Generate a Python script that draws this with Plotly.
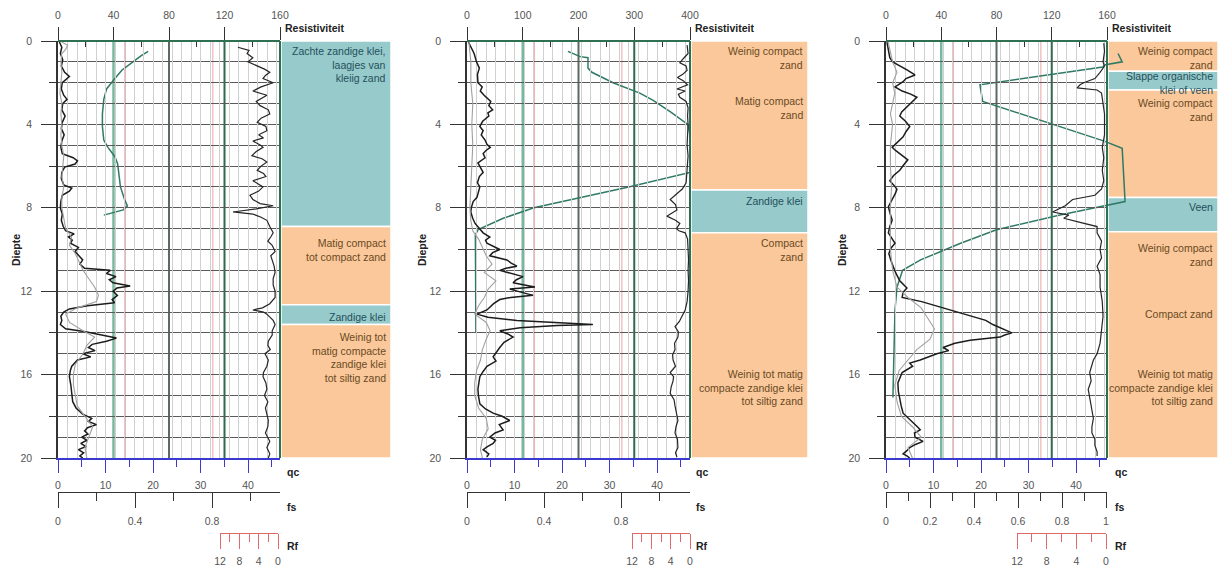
import plotly.graph_objects as go

W, H = 1220, 566
FONT = "Liberation Sans, Arial, Helvetica, sans-serif"

# ======================= DATA =======================
# ---------- Panel 1 ----------
p1_qc_depth = [0.05, 0.3, 0.6, 0.9, 1.2, 1.5, 1.7, 1.85, 2.0, 2.3,
               2.6, 2.8, 3.0, 3.3, 3.6, 3.9, 4.2, 4.5, 4.8, 5.1,
               5.4, 5.6, 5.75, 5.9, 6.05, 6.3, 6.6, 6.9, 7.05, 7.2,
               7.4, 7.7, 8.0, 8.3, 8.6, 8.9, 9.1, 9.25, 9.4, 9.55,
               9.7, 9.9, 10.1, 10.3, 10.5, 10.7, 10.9, 11.0, 11.15, 11.3,
               11.45, 11.6, 11.75, 11.85, 12.0, 12.2, 12.4, 12.55, 12.7, 12.85,
               13.0, 13.2, 13.4, 13.6, 13.8, 13.95, 14.1, 14.25, 14.4, 14.55,
               14.7, 14.85, 15.0, 15.15, 15.3, 15.45, 15.6, 15.8, 16.1, 16.5,
               16.9, 17.3, 17.6, 17.9, 18.1, 18.25, 18.4, 18.55, 18.7, 18.85,
               19.0, 19.15, 19.3, 19.45, 19.6, 19.75, 19.9, 20.0]
p1_qc = [0.3, 0.8, 0.5, 1.0, 0.7, 1.4, 2.4, 1.6, 0.9, 0.7,
         1.2, 1.9, 1.0, 0.8, 1.5, 0.9, 0.7, 1.3, 0.8, 0.6,
         0.9, 3.2, 4.1, 3.6, 1.4, 0.8, 0.7, 1.2, 2.9, 2.4,
         0.9, 0.6, 0.5, 0.9, 0.7, 1.1, 1.6, 3.4, 2.2, 3.0,
         2.6, 4.3, 3.6, 4.4, 5.2, 4.6, 5.6, 11.0, 10.2, 12.2,
         10.8, 11.6, 15.2, 12.4, 11.6, 12.5, 11.4, 11.9, 6.2, 2.4,
         1.2, 0.6, 0.8, 0.5, 1.6, 5.8, 9.5, 12.3, 10.2, 7.2,
         6.4, 7.8, 5.2, 6.9, 4.1, 3.4, 2.9, 2.6, 2.4, 2.7,
         2.9, 3.1, 3.8, 5.2, 7.1, 6.4, 8.1, 6.2, 5.6, 6.3,
         5.0, 6.1, 4.8, 5.9, 4.3, 5.4, 4.6, 5.2]

p1_fs_depth = [0.05, 0.2, 0.4, 0.6, 1.0, 1.5, 2.0, 2.5, 3.0, 3.5,
               4.0, 4.5, 5.0, 5.5, 6.0, 6.5, 7.0, 7.5, 8.0, 8.5,
               9.0, 9.4, 9.8, 10.2, 10.6, 11.0, 11.4, 11.8, 12.2, 12.5,
               12.8, 13.1, 13.5, 13.9, 14.2, 14.6, 15.0, 15.5, 16.0, 16.5,
               17.0, 17.5, 18.0, 18.5, 19.0, 19.5, 20.0]
p1_fs = [0.02, 0.05, 0.04, 0.02, 0.015, 0.02, 0.015, 0.01, 0.02, 0.015,
         0.02, 0.015, 0.02, 0.03, 0.025, 0.02, 0.03, 0.02, 0.02, 0.03,
         0.04, 0.07, 0.06, 0.09, 0.11, 0.13, 0.16, 0.19, 0.21, 0.2,
         0.1, 0.04, 0.06, 0.13, 0.19, 0.15, 0.13, 0.09, 0.08, 0.08,
         0.09, 0.1, 0.14, 0.18, 0.16, 0.14, 0.15]

p1_rf_depth = [0.3, 0.45, 0.6, 0.8, 1.0, 1.2, 1.35, 1.5, 1.65, 1.8,
               2.0, 2.2, 2.4, 2.6, 2.75, 2.9, 3.1, 3.3, 3.5, 3.7,
               3.9, 4.1, 4.3, 4.5, 4.65, 4.8, 5.0, 5.1, 5.3, 5.5,
               5.65, 5.8, 6.0, 6.2, 6.35, 6.5, 6.7, 6.85, 7.0, 7.2,
               7.4, 7.6, 7.8, 7.9, 8.05, 8.2, 8.3, 8.45, 8.6, 8.9,
               9.2, 9.4, 9.6, 9.8, 10.1, 10.3, 10.5, 10.8, 11.1, 11.4,
               11.7, 12.0, 12.3, 12.6, 12.8, 12.9, 13.0, 13.1, 13.4, 13.6,
               13.9, 14.1, 14.4, 14.6, 14.8, 15.0, 15.3, 15.6, 15.9, 16.1,
               16.4, 16.7, 17.0, 17.3, 17.6, 17.9, 18.2, 18.5, 18.8, 19.2,
               19.5, 19.8, 20.0]
p1_rf = [8.3, 6.0, 6.4, 5.2, 6.2, 4.1, 2.8, 1.7, 2.6, 3.1,
         1.0, 3.5, 5.2, 2.3, 3.4, 4.5, 3.7, 2.0, 1.7, 3.5,
         4.3, 2.5, 2.3, 4.0, 3.0, 5.2, 3.6, 3.1, 4.5, 5.4,
         3.3, 2.3, 3.5, 4.3, 3.0, 2.5, 5.2, 4.0, 3.1, 4.0,
         5.8, 5.2, 3.7, 1.0, 4.5, 9.3, 5.2, 3.5, 2.3, 1.7,
         1.0, 1.5, 2.1, 1.2, 0.6, 1.5, 1.2, 0.8, 0.6, 1.0,
         1.0, 0.6, 0.6, 1.7, 3.2, 5.2, 3.0, 2.3, 1.0, 0.6,
         1.2, 1.2, 2.0, 2.1, 1.6, 2.7, 2.0, 2.3, 3.0, 3.1,
         2.5, 2.3, 2.8, 2.1, 2.6, 2.3, 2.0, 2.1, 2.6, 1.7,
         2.3, 1.7, 2.0]

p1_res_depth = [0.5, 0.7, 1.0, 1.4, 1.8, 2.3, 2.8, 3.5, 4.1, 4.75,
                5.1, 5.55, 5.9, 6.5, 7.0, 7.6, 7.9, 8.1, 8.35]
p1_res = [65, 60, 54, 46, 41, 35, 33, 32, 32, 33,
          36, 41, 43, 44, 45, 48, 50, 47, 33]

p1_layer_top = [0.0, 8.9, 12.65, 13.6]
p1_layer_bottom = [8.9, 12.65, 13.6, 20.0]
p1_layer_type = ["klei", "zand", "klei", "zand"]
p1_text = ["Zachte zandige klei,<br>laagjes van<br>kleiig zand",
           "Matig compact<br>tot compact zand",
           "Zandige klei",
           "Weinig tot<br>matig compacte<br>zandige klei<br>tot siltig zand"]
p1_text_depth = [0.1, 9.3, 12.85, 13.8]
p1_res_ticks = [0, 40, 80, 120, 160]
p1_fs_ticks = [0, 0.4, 0.8]
p1_fs_minor = [0.2, 0.6, 1.0]

# ---------- Panel 2 ----------
p2_qc_depth = [0.05, 0.3, 0.6, 1.0, 1.3, 1.6, 2.0, 2.2, 2.4, 2.6,
               2.75, 2.9, 3.1, 3.3, 3.45, 3.6, 3.85, 4.1, 4.3, 4.5,
               4.75, 4.95, 5.1, 5.25, 5.4, 5.6, 5.85, 6.1, 6.3, 6.5,
               6.8, 7.0, 7.25, 7.5, 7.7, 8.0, 8.2, 8.5, 8.75, 9.0,
               9.2, 9.4, 9.55, 9.7, 9.85, 10.0, 10.15, 10.3, 10.5, 10.65,
               10.8, 10.9, 11.0, 11.15, 11.3, 11.45, 11.6, 11.7, 11.8, 11.9,
               12.05, 12.2, 12.3, 12.4, 12.6, 12.9, 13.1, 13.25, 13.4, 13.5,
               13.6, 13.65, 13.75, 13.9, 14.05, 14.2, 14.45, 14.7, 14.9, 15.15,
               15.35, 15.6, 15.85, 16.1, 16.4, 16.7, 17.0, 17.4, 17.65, 17.85,
               18.0, 18.2, 18.4, 18.65, 18.8, 19.0, 19.15, 19.3, 19.45, 19.6,
               19.8, 19.95]
p2_qc = [0.3, 0.8, 1.5, 2.0, 2.6, 2.2, 2.3, 3.2, 2.8, 3.6,
         4.4, 5.0, 4.6, 5.4, 4.4, 4.6, 3.3, 2.7, 3.4, 3.0,
         3.8, 4.2, 4.9, 4.0, 3.4, 3.8, 2.3, 2.9, 3.4, 2.6,
         2.2, 2.7, 2.4, 2.1, 1.3, 0.9, 0.8, 1.2, 1.7, 2.6,
         3.4, 4.8, 3.9, 4.2, 5.6, 6.9, 5.4, 4.8, 8.4, 9.3,
         10.5, 8.2, 6.9, 9.5, 11.8, 10.4, 9.7, 12.1, 14.3, 9.0,
         11.5, 13.9, 9.2, 6.9, 5.6, 4.2, 2.1, 4.4, 10.5, 18.5,
         26.5, 19.0, 11.2, 6.9, 8.6, 9.7, 7.8, 6.9, 6.2, 5.5,
         6.1, 4.2, 3.4, 2.7, 2.5, 2.3, 2.4, 2.7, 3.9, 5.5,
         7.4, 9.0, 6.8, 7.6, 5.9, 4.8, 6.0, 5.5, 4.3, 3.4,
         4.6, 4.2]

p2_fs_depth = [0.05, 0.5, 1.0, 2.0, 3.0, 4.0, 5.0, 6.0, 7.0, 8.0,
               8.6, 9.1, 9.5, 9.9, 10.3, 10.7, 11.1, 11.5, 11.9, 12.3,
               12.7, 13.1, 13.5, 13.9, 14.3, 14.8, 15.3, 15.8, 16.4, 17.0,
               17.6, 18.1, 18.6, 19.1, 19.6, 20.0]
p2_fs = [0.01, 0.015, 0.02, 0.02, 0.03, 0.025, 0.03, 0.025, 0.02, 0.015,
         0.02, 0.03, 0.06, 0.08, 0.1, 0.13, 0.09, 0.15, 0.11, 0.09,
         0.06, 0.04, 0.1, 0.12, 0.1, 0.08, 0.07, 0.05, 0.04, 0.04,
         0.06, 0.1, 0.11, 0.08, 0.07, 0.08]

p2_rf_depth = [0.2, 0.6, 0.85, 1.05, 1.2, 1.4, 1.6, 1.75, 1.9, 2.1,
               2.3, 2.4, 2.55, 2.7, 2.9, 3.2, 3.6, 4.0, 4.5, 5.0,
               5.5, 6.0, 6.4, 6.8, 7.1, 7.3, 7.6, 7.85, 8.1, 8.4,
               8.6, 8.75, 9.0, 9.1, 9.2, 9.5, 10.0, 10.5, 11.0, 11.5,
               12.0, 12.5, 12.9, 13.2, 13.45, 13.7, 13.95, 14.2, 14.5, 14.8,
               15.05, 15.3, 15.6, 15.9, 16.1, 16.3, 16.6, 16.9, 17.2, 17.5,
               17.85, 18.2, 18.5, 18.8, 19.1, 19.5, 19.75, 19.95]
p2_rf = [0.6, 0.4, 1.4, 2.1, 0.8, 0.6, 1.5, 2.6, 1.4, 0.5,
         2.7, 1.0, 2.4, 2.1, 0.8, 0.4, 0.5, 0.4, 0.5, 0.6,
         0.4, 0.5, 0.7, 0.8, 1.6, 2.7, 4.1, 3.0, 2.7, 4.8,
         3.0, 2.1, 2.8, 2.3, 1.0, 0.5, 0.4, 0.3, 0.4, 0.3,
         0.4, 0.6, 1.0, 1.7, 2.2, 3.1, 2.4, 2.5, 3.2, 3.1,
         3.6, 3.5, 3.0, 4.1, 3.4, 3.5, 3.9, 4.1, 3.3, 3.1,
         2.8, 2.5, 2.9, 3.1, 2.6, 2.5, 3.0, 2.7]

p2_res_depth = [0.5, 0.75, 0.8, 1.3, 1.5, 2.0, 2.5, 2.85, 3.4, 4.0,
                4.5, 5.5, 6.3, 7.0, 7.6, 8.0, 8.5, 9.05, 9.3, 11.0, 14.0]
p2_res = [181, 203, 217, 217, 224, 262, 310, 334, 365, 396,
          400, 400, 400, 290, 190, 120, 65, 20, 15, 15, 16]

p2_layer_top = [0.0, 7.15, 9.2]
p2_layer_bottom = [7.15, 9.2, 20.0]
p2_layer_type = ["zand", "klei", "zand"]
p2_text = ["Weinig compact<br>zand", "Matig compact<br>zand", "Zandige klei",
           "Compact<br>zand",
           "Weinig tot matig<br>compacte zandige klei<br>tot siltig zand"]
p2_text_depth = [0.1, 2.5, 7.3, 9.3, 15.6]
p2_res_ticks = [0, 100, 200, 300, 400]
p2_fs_ticks = [0, 0.4, 0.8]
p2_fs_minor = [0.2, 0.6, 1.0]

# ---------- Panel 3 ----------
p3_qc_depth = [0.05, 0.4, 0.8, 1.0, 1.2, 1.4, 1.63, 1.8, 1.95, 2.2,
               2.4, 2.55, 2.7, 2.9, 3.15, 3.4, 3.6, 3.85, 4.1, 4.35,
               4.6, 4.85, 5.1, 5.25, 5.4, 5.55, 5.7, 5.95, 6.2, 6.45,
               6.7, 6.9, 7.1, 7.3, 7.5, 7.75, 7.95, 8.3, 8.6, 8.9,
               9.2, 9.45, 9.7, 9.95, 10.2, 10.5, 10.8, 11.1, 11.5, 11.7,
               11.85, 12.05, 12.3, 12.5, 12.7, 12.9, 13.1, 13.4, 13.6, 13.8,
               14.0, 14.1, 14.2, 14.35, 14.5, 14.7, 14.85, 15.0, 15.15, 15.3,
               15.45, 15.6, 15.9, 16.15, 16.4, 16.8, 17.2, 17.5, 17.85, 18.1,
               18.3, 18.5, 18.65, 18.8, 19.0, 19.1, 19.2, 19.35, 19.5, 19.65,
               19.8, 19.9, 20.0]
p3_qc = [0.2, 0.5, 0.8, 1.4, 3.0, 4.5, 6.1, 4.2, 3.6, 1.9,
         3.4, 5.2, 6.5, 5.6, 4.4, 3.3, 2.9, 4.1, 5.0, 4.2,
         3.6, 2.4, 1.3, 2.0, 2.9, 3.8, 4.6, 3.7, 2.9, 1.6,
         0.8, 1.6, 2.3, 2.0, 1.5, 0.9, 0.5, 0.9, 1.3, 0.8,
         0.5, 1.2, 1.9, 1.0, 0.6, 1.0, 1.5, 2.0, 2.9, 3.8,
         4.4, 3.6, 3.4, 7.5, 10.5, 14.0, 16.5, 21.0, 22.5, 24.5,
         26.5, 25.0, 24.0, 17.7, 14.5, 12.0, 13.2, 10.7, 9.0, 7.2,
         5.0, 5.6, 3.4, 2.9, 2.5, 2.6, 2.9, 3.2, 3.6, 4.8,
         5.7, 6.6, 7.2, 6.0, 6.1, 7.0, 7.8, 6.2, 5.0, 4.4,
         3.6, 4.4, 5.0]

p3_fs_depth = [0.05, 0.5, 1.0, 1.5, 2.0, 2.5, 3.0, 3.5, 4.0, 5.0,
               6.0, 7.0, 8.0, 9.0, 10.0, 11.0, 11.8, 12.3, 12.8, 13.3,
               13.8, 14.3, 14.8, 15.3, 15.8, 16.5, 17.3, 18.0, 18.5, 19.0,
               19.5, 20.0]
p3_fs = [0.01, 0.02, 0.03, 0.05, 0.03, 0.04, 0.03, 0.02, 0.03, 0.02,
         0.02, 0.025, 0.02, 0.02, 0.02, 0.03, 0.05, 0.1, 0.16, 0.19,
         0.22, 0.2, 0.14, 0.1, 0.06, 0.04, 0.05, 0.07, 0.12, 0.16,
         0.1, 0.12]

p3_rf_depth = [0.1, 0.5, 1.0, 1.2, 1.5, 1.8, 2.0, 2.1, 2.25, 2.35,
               2.5, 2.9, 3.5, 4.5, 5.1, 5.6, 6.2, 6.7, 7.1, 7.4,
               7.6, 7.9, 8.2, 8.35, 8.5, 8.7, 8.9, 9.2, 9.6, 10.0,
               10.4, 10.8, 11.2, 11.8, 12.5, 13.2, 13.8, 14.5, 15.0, 15.3,
               15.9, 16.3, 16.7, 17.1, 17.5, 18.1, 18.5, 18.8, 19.1, 19.4,
               19.7, 19.9]
p3_rf = [0.3, 0.2, 0.4, 0.2, 0.8, 1.5, 3.0, 3.5, 3.9, 1.2,
         0.6, 0.4, 0.2, 0.2, 0.5, 0.3, 0.5, 0.3, 0.6, 1.5,
         4.5, 5.5, 7.2, 5.0, 5.7, 3.5, 1.2, 1.2, 0.6, 0.8,
         0.6, 1.2, 0.8, 0.8, 0.5, 0.4, 0.6, 0.8, 1.2, 1.7,
         2.2, 2.0, 2.4, 2.2, 1.9, 1.7, 1.9, 1.9, 1.5, 1.5,
         1.2, 1.2]

p3_res_depth = [0.6, 1.0, 1.15, 1.25, 2.1, 2.85, 2.9, 4.8, 4.85, 5.15,
                7.6, 7.7, 8.35, 9.05, 9.7, 10.5, 11.0, 11.8, 12.9, 17.1]
p3_res = [168, 171, 158, 157, 68, 70, 70, 158, 160, 171,
          173, 173, 126, 80, 54, 25, 12, 8, 6.5, 5]

p3_layer_top = [0.0, 1.45, 2.35, 7.5, 9.15]
p3_layer_bottom = [1.45, 2.35, 7.5, 9.15, 20.0]
p3_layer_type = ["zand", "klei", "zand", "klei", "zand"]
p3_text = ["Weinig compact<br>zand", "Slappe organische<br>klei of veen",
           "Weinig compact<br>zand", "Veen", "Weinig compact<br>zand",
           "Compact zand",
           "Weinig tot matig<br>compacte zandige klei<br>tot siltig zand"]
p3_text_depth = [0.1, 1.3, 2.6, 7.6, 9.55, 12.7, 15.6]
p3_res_ticks = [0, 40, 80, 120, 160]
p3_fs_ticks = [0, 0.2, 0.4, 0.6, 0.8, 1.0]
p3_fs_minor = [0.1, 0.3, 0.5, 0.7, 0.9]

qc_ticks = [0, 10, 20, 30, 40]
qc_minor = [5, 15, 25, 35, 45]
rf_ticks = [12, 8, 4, 0]
rf_minor = [10, 6, 2]
depth_ticks = [0, 4, 8, 12, 16, 20]
depth_minor = [2, 6, 10, 14, 18]
pink_qc = [14.2, 32.6]

# ======================= STYLE / GEOMETRY =======================
BLUE = "#3a3ad0"
RED = "#e06a6a"
DARK = "#333333"
GRIDH = "#5a5a5a"
GRIDV = "#d0d0d0"
TEAL = "#97cacb"
ORANGE = "#fac89a"
RESCOL = "#2f7a66"
TICKFONT = dict(family=FONT, size=10.5, color="#555555")
CLEAR = "rgba(0,0,0,0)"
HEAVY_STYLE = [("#78b89e", 2.5), ("#5b6b62", 2), ("#2f6a4f", 2)]


def px(x):
    return x / W


def py(y):
    return 1 - y / H


Y_TOP, Y_BOT = 41, 458

panels = [
    dict(x0=58, x1=280, lx1=391, rfx0=220, rfx1=278, fs_px=192.5,
         resmax=160, diepte_x=16, lab_x=285,
         qc_d=p1_qc_depth, qc=p1_qc, fs_d=p1_fs_depth, fs=p1_fs,
         rf_d=p1_rf_depth, rf=p1_rf, res_d=p1_res_depth, res=p1_res,
         lt=p1_layer_top, lb=p1_layer_bottom, ltype=p1_layer_type,
         text=p1_text, text_d=p1_text_depth, res_ticks=p1_res_ticks,
         fs_ticks=p1_fs_ticks, fs_minor=p1_fs_minor),
    dict(x0=467, x1=690, lx1=808, rfx0=632, rfx1=690, fs_px=192.5,
         resmax=400, diepte_x=422, lab_x=694,
         qc_d=p2_qc_depth, qc=p2_qc, fs_d=p2_fs_depth, fs=p2_fs,
         rf_d=p2_rf_depth, rf=p2_rf, res_d=p2_res_depth, res=p2_res,
         lt=p2_layer_top, lb=p2_layer_bottom, ltype=p2_layer_type,
         text=p2_text, text_d=p2_text_depth, res_ticks=p2_res_ticks,
         fs_ticks=p2_fs_ticks, fs_minor=p2_fs_minor),
    dict(x0=886, x1=1107, lx1=1218, rfx0=1017, rfx1=1106, fs_px=220.0,
         resmax=160, diepte_x=842, lab_x=1113,
         qc_d=p3_qc_depth, qc=p3_qc, fs_d=p3_fs_depth, fs=p3_fs,
         rf_d=p3_rf_depth, rf=p3_rf, res_d=p3_res_depth, res=p3_res,
         lt=p3_layer_top, lb=p3_layer_bottom, ltype=p3_layer_type,
         text=p3_text, text_d=p3_text_depth, res_ticks=p3_res_ticks,
         fs_ticks=p3_fs_ticks, fs_minor=p3_fs_minor),
]

QC_PX = 4.75  # pixels per MPa


def xref(n):
    return "x" if n == 1 else f"x{n}"


def yref(n):
    return "y" if n == 1 else f"y{n}"


def xkey(n):
    return "xaxis" if n == 1 else f"xaxis{n}"


def ykey(n):
    return "yaxis" if n == 1 else f"yaxis{n}"


fig = go.Figure()
layout = {}
shapes = []
annotations = []

for i, P in enumerate(panels):
    bx = i * 6
    by = i * 3
    # resistivity axes first so their subplot sits underneath
    XS, XQ, XG, XF, XR, XRD = [bx + k for k in range(1, 7)]
    YS, YD, YT = [by + k for k in range(1, 4)]
    x0, x1 = P["x0"], P["x1"]
    qcmax = (x1 - x0) / QC_PX
    fsmax = (x1 - x0) / P["fs_px"]
    rf_pxu = (P["rfx1"] - P["rfx0"]) / 12.0
    rf_hi = (P["rfx1"] - x0) / rf_pxu
    rf_lo = -(x1 - P["rfx1"]) / rf_pxu
    res_ext = P["resmax"] * (P["lx1"] - x0) / (x1 - x0)
    ydom = [py(Y_BOT), py(Y_TOP)]

    base = dict(showgrid=False, zeroline=False)

    layout[xkey(XS)] = dict(base, domain=[px(x0), px(P["lx1"])],
                            range=[0, res_ext], anchor=yref(YS), side="top",
                            showline=False, ticks="outside", ticklen=13,
                            tickwidth=1.3, tickcolor=DARK, tickmode="array",
                            tickvals=P["res_ticks"],
                            minor=dict(tickmode="array",
                                       tickvals=[v + P["res_ticks"][1] / 2
                                                 for v in P["res_ticks"][:-1]],
                                       ticks="inside", ticklen=6,
                                       tickcolor=DARK, tickwidth=1.2),
                            tickfont=TICKFONT, ticklabelstandoff=4)
    layout[ykey(YS)] = dict(base, domain=ydom, range=[20, 0],
                            anchor=xref(XS), visible=False)

    layout[xkey(XQ)] = dict(base, domain=[px(x0), px(x1)], range=[0, qcmax],
                            anchor=yref(YD), side="bottom", showline=True,
                            linecolor=BLUE, linewidth=1.5, ticks="outside",
                            ticklen=13, tickwidth=1.3, tickcolor=BLUE,
                            tickmode="array", tickvals=qc_ticks,
                            minor=dict(tickmode="array", tickvals=qc_minor,
                                       ticks="outside", ticklen=7,
                                       tickcolor=BLUE, tickwidth=1.3),
                            tickfont=TICKFONT, ticklabelstandoff=4)
    layout[xkey(XG)] = dict(overlaying=xref(XQ), range=[0, qcmax],
                            anchor=yref(YD), showgrid=True, gridcolor=GRIDV,
                            gridwidth=1, tick0=0, dtick=2, ticks="",
                            showticklabels=False, showline=False,
                            zeroline=False)
    layout[xkey(XF)] = dict(base, overlaying=xref(XQ), range=[0, fsmax],
                            anchor="free", position=py(492), side="bottom",
                            showline=True, linecolor=DARK, linewidth=1.3,
                            ticks="outside", ticklen=15, tickwidth=1.3,
                            tickcolor=DARK, tickmode="array",
                            tickvals=P["fs_ticks"],
                            minor=dict(tickmode="array", tickvals=P["fs_minor"],
                                       ticks="outside", ticklen=8,
                                       tickcolor=DARK, tickwidth=1.3),
                            tickfont=TICKFONT, ticklabelstandoff=4)
    layout[xkey(XR)] = dict(base, overlaying=xref(XQ), range=[rf_hi, rf_lo],
                            anchor=yref(YD), visible=False)
    layout[xkey(XRD)] = dict(base, domain=[px(P["rfx0"]), px(P["rfx1"])],
                             range=[12, 0], anchor="free", position=py(533),
                             side="bottom", showline=True, linecolor=RED,
                             linewidth=1.3, ticks="outside", ticklen=15,
                             tickwidth=1.3, tickcolor=RED, tickmode="array",
                             tickvals=rf_ticks,
                             minor=dict(tickmode="array", tickvals=rf_minor,
                                        ticks="outside", ticklen=8,
                                        tickcolor=RED, tickwidth=1.3),
                             tickfont=TICKFONT, ticklabelstandoff=3)

    layout[ykey(YD)] = dict(base, domain=ydom, range=[20, 0], anchor=xref(XQ),
                            showline=True, linecolor=DARK, linewidth=1.5,
                            ticks="outside", ticklen=15, tickwidth=1.3,
                            tickcolor=DARK, tickmode="array",
                            tickvals=depth_ticks, showgrid=True,
                            gridcolor=GRIDH, gridwidth=1,
                            minor=dict(dtick=1, tick0=0, showgrid=True,
                                       gridcolor=GRIDH, gridwidth=1, ticks=""),
                            tickfont=TICKFONT, ticklabelstandoff=7)
    layout[ykey(YT)] = dict(base, overlaying=yref(YD), anchor=xref(XQ),
                            side="left", range=[20, 0], tickmode="array",
                            tickvals=depth_minor, ticks="outside", ticklen=8,
                            tickwidth=1.3, tickcolor=DARK,
                            showticklabels=False, showline=False)

    # resistivity (drawn first, underneath)
    fig.add_trace(go.Scatter(x=P["res"], y=P["res_d"], xaxis=xref(XS),
                             yaxis=yref(YS), mode="lines",
                             line=dict(color=RESCOL, width=1.5),
                             showlegend=False, name="Resistiviteit"))
    # helper traces so every axis pair exists
    for xa, ya in [(XG, YD), (XRD, YS), (XQ, YT)]:
        fig.add_trace(go.Scatter(x=[None], y=[None], xaxis=xref(xa),
                                 yaxis=yref(ya), mode="lines",
                                 showlegend=False, hoverinfo="skip"))
    fig.add_trace(go.Scatter(x=P["fs"], y=P["fs_d"], xaxis=xref(XF),
                             yaxis=yref(YD), mode="lines",
                             line=dict(color="#a0a0a0", width=1.1),
                             showlegend=False, name="fs"))
    fig.add_trace(go.Scatter(x=P["qc"], y=P["qc_d"], xaxis=xref(XQ),
                             yaxis=yref(YD), mode="lines",
                             line=dict(color="#1c1c1c", width=1.5),
                             showlegend=False, name="qc"))
    fig.add_trace(go.Scatter(x=P["rf"], y=P["rf_d"], xaxis=xref(XR),
                             yaxis=yref(YD), mode="lines",
                             line=dict(color="#262626", width=1.2),
                             showlegend=False, name="Rf"))

    # soil layer column
    for t, b, kind in zip(P["lt"], P["lb"], P["ltype"]):
        shapes.append(dict(type="rect", xref="paper", yref=yref(YD),
                           x0=px(x1 + 1), x1=px(P["lx1"]), y0=t, y1=b,
                           fillcolor=TEAL if kind == "klei" else ORANGE,
                           line=dict(color="white", width=1.5), layer="below"))

    # heavy resistivity reference lines
    for v, (c, w) in zip(P["res_ticks"][1:4], HEAVY_STYLE):
        shapes.append(dict(type="line", xref=xref(XS), yref="paper",
                           x0=v, x1=v, y0=py(Y_BOT), y1=py(Y_TOP),
                           line=dict(color=c, width=w), layer="below"))
    # pinkish guide lines
    for v in pink_qc:
        shapes.append(dict(type="line", xref=xref(XQ), yref="paper",
                           x0=v, x1=v, y0=py(Y_BOT), y1=py(Y_TOP),
                           line=dict(color="#efb3b8", width=1.2),
                           layer="below"))
    # frame: top and right
    shapes.append(dict(type="line", xref=f"{xref(XQ)} domain",
                       yref=f"{yref(YD)} domain", x0=0, x1=1, y0=1, y1=1,
                       line=dict(color="#2f6f52", width=2), layer="above"))
    shapes.append(dict(type="line", xref=f"{xref(XQ)} domain",
                       yref=f"{yref(YD)} domain", x0=1, x1=1, y0=0, y1=1,
                       line=dict(color="#2f6f52", width=2), layer="above"))

    # layer descriptions
    for txt, d in zip(P["text"], P["text_d"]):
        kind = "zand"
        for t, b, k in zip(P["lt"], P["lb"], P["ltype"]):
            if t <= d + 0.3 < b:
                kind = k
        annotations.append(dict(xref="paper", yref=yref(YD), x=px(P["lx1"] - 3),
                                y=d, xanchor="right", yanchor="top",
                                text=txt, showarrow=False, align="right",
                                font=dict(family=FONT, size=10.5,
                                          color="#24505c" if kind == "klei"
                                          else "#6a4a25")))

    # axis titles
    bold = dict(family=FONT, size=10.5, color="#222222")
    annotations.append(dict(xref="paper", yref="paper", x=px(x1 + 3), y=py(28),
                            xanchor="left", yanchor="middle",
                            text="<b>Resistiviteit</b>", showarrow=False,
                            font=bold))
    for lab, yy in [("qc", 472), ("fs", 507), ("Rf", 546)]:
        annotations.append(dict(xref="paper", yref="paper", x=px(P["lab_x"]),
                                y=py(yy), xanchor="left", yanchor="middle",
                                text=f"<b>{lab}</b>", showarrow=False,
                                font=bold))
    annotations.append(dict(xref="paper", yref="paper", x=px(P["diepte_x"]),
                            y=py(250), xanchor="center", yanchor="middle",
                            text="<b>Diepte</b>", textangle=-90,
                            showarrow=False, font=bold))

layout.update(dict(
    width=W, height=H, margin=dict(l=0, r=0, t=0, b=0),
    paper_bgcolor="white", plot_bgcolor=CLEAR, template="none",
    showlegend=False, shapes=shapes, annotations=annotations,
    font=dict(family=FONT, size=10.5, color="#555555"),
))
fig.update_layout(**layout)
fig.write_html("out.html")
